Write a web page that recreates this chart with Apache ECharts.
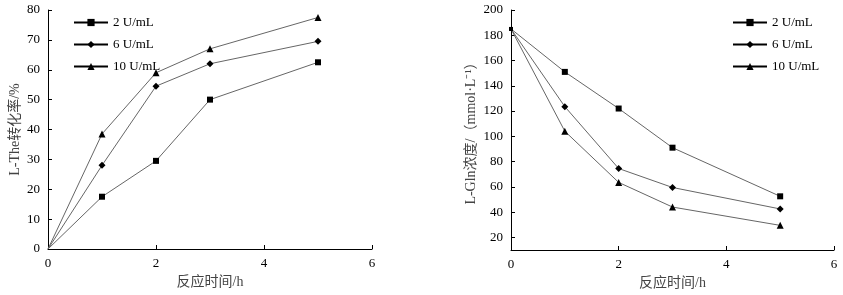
<!DOCTYPE html>
<html>
<head>
<meta charset="utf-8">
<script src="https://cdn.jsdelivr.net/npm/echarts@6/dist/echarts.min.js"></script>
<style>
  html, body { margin: 0; padding: 0; background: #fff; }
  #main { width: 843px; height: 295px; }
</style>
</head>
<body>
<div id="main"></div>
<script>
// 反应时间 /h
var times = [0, 1, 2, 3, 5];
var seriesNames = ["2 U/mL", "6 U/mL", "10 U/mL"];
var symbols = ["rect", "diamond", "triangle"];

// 左图：L-The 转化率 /%
var theRate2 = [0, 17.5, 29.5, 50, 62.5];
var theRate6 = [0, 28, 54.5, 62, 69.5];
var theRate10 = [0, 38.5, 59, 67, 77.5];

// 右图：L-Gln 浓度 /(mmol·L-1)
var gln2 = [185, 151, 122, 91, 52.5];
var gln6 = [185, 123.5, 74.5, 59.5, 42.5];
var gln10 = [185, 104, 63.5, 44, 29.5];

var glnTicks = [20, 40, 60, 80, 100, 120, 140, 160, 180, 200];

var font = "'Liberation Serif', 'Noto Sans CJK SC', serif";

function pairs(ys) {
  return times.map(function (t, i) { return [t, ys[i]]; });
}

function axisBase() {
  return {
    axisLine: { show: true, lineStyle: { color: "#000", width: 1 } },
    axisTick: { show: true, inside: true, length: 4, lineStyle: { color: "#000" } },
    axisLabel: { color: "#000", fontFamily: font, fontSize: 13 },
    splitLine: { show: false },
    nameTextStyle: { color: "#444", fontFamily: font, fontSize: 14 },
  };
}

function makeSeries(name, data, sym, xi, hideFirst) {
  return {
    name: name,
    type: "line",
    xAxisIndex: xi,
    yAxisIndex: xi,
    data: data,
    symbol: sym,
    symbolSize: function (val) {
      if (val[0] === 0) return hideFirst ? 0 : 4;
      return sym === "triangle" ? 7 : (sym === "diamond" ? 7 : 6);
    },
    lineStyle: { color: "#666", width: 1 },
    itemStyle: { color: "#000" },
    animation: false,
  };
}

var myChart = echarts.init(document.getElementById("main"));

var x0 = Object.assign(axisBase(), {
  type: "value", gridIndex: 0, min: 0, max: 6, interval: 2,
  name: "反应时间/h", nameLocation: "middle", nameGap: 26,
});
var x1 = Object.assign(axisBase(), {
  type: "value", gridIndex: 1, min: 0, max: 6, interval: 2,
  name: "反应时间/h", nameLocation: "middle", nameGap: 26,
});
var y0 = Object.assign(axisBase(), {
  type: "value", gridIndex: 0, min: 0, max: 80, interval: 10,
  name: "L-The转化率/%", nameLocation: "middle", nameGap: 26,
});
var y1 = Object.assign(axisBase(), {
  type: "value", gridIndex: 1, min: 10, max: 200,
  name: "L-Gln浓度/（mmol·L⁻¹）", nameLocation: "middle", nameGap: 33,
});
y1.axisLabel = Object.assign({}, y1.axisLabel, { customValues: glnTicks });
y1.axisTick = Object.assign({}, y1.axisTick, { customValues: glnTicks });

var legendBase = {
  orient: "vertical", top: 11,
  itemWidth: 34, itemHeight: 9, itemGap: 9,
  data: seriesNames,
  lineStyle: { color: "#000" },
  textStyle: { color: "#000", fontFamily: font, fontSize: 13 },
};

var option = {
  backgroundColor: "#fff",
  grid: [
    { left: 48, top: 10, width: 324, height: 239 },
    { left: 511, top: 10, width: 323, height: 240 },
  ],
  legend: [
    Object.assign({ left: 68 }, legendBase),
    Object.assign({ left: 727 }, legendBase),
  ],
  xAxis: [x0, x1],
  yAxis: [y0, y1],
  series: [
    makeSeries(seriesNames[0], pairs(theRate2), symbols[0], 0, true),
    makeSeries(seriesNames[1], pairs(theRate6), symbols[1], 0, true),
    makeSeries(seriesNames[2], pairs(theRate10), symbols[2], 0, true),
    makeSeries(seriesNames[0], pairs(gln2), symbols[0], 1, false),
    makeSeries(seriesNames[1], pairs(gln6), symbols[1], 1, false),
    makeSeries(seriesNames[2], pairs(gln10), symbols[2], 1, false),
  ],
};

myChart.setOption(option);
</script>
</body>
</html>
